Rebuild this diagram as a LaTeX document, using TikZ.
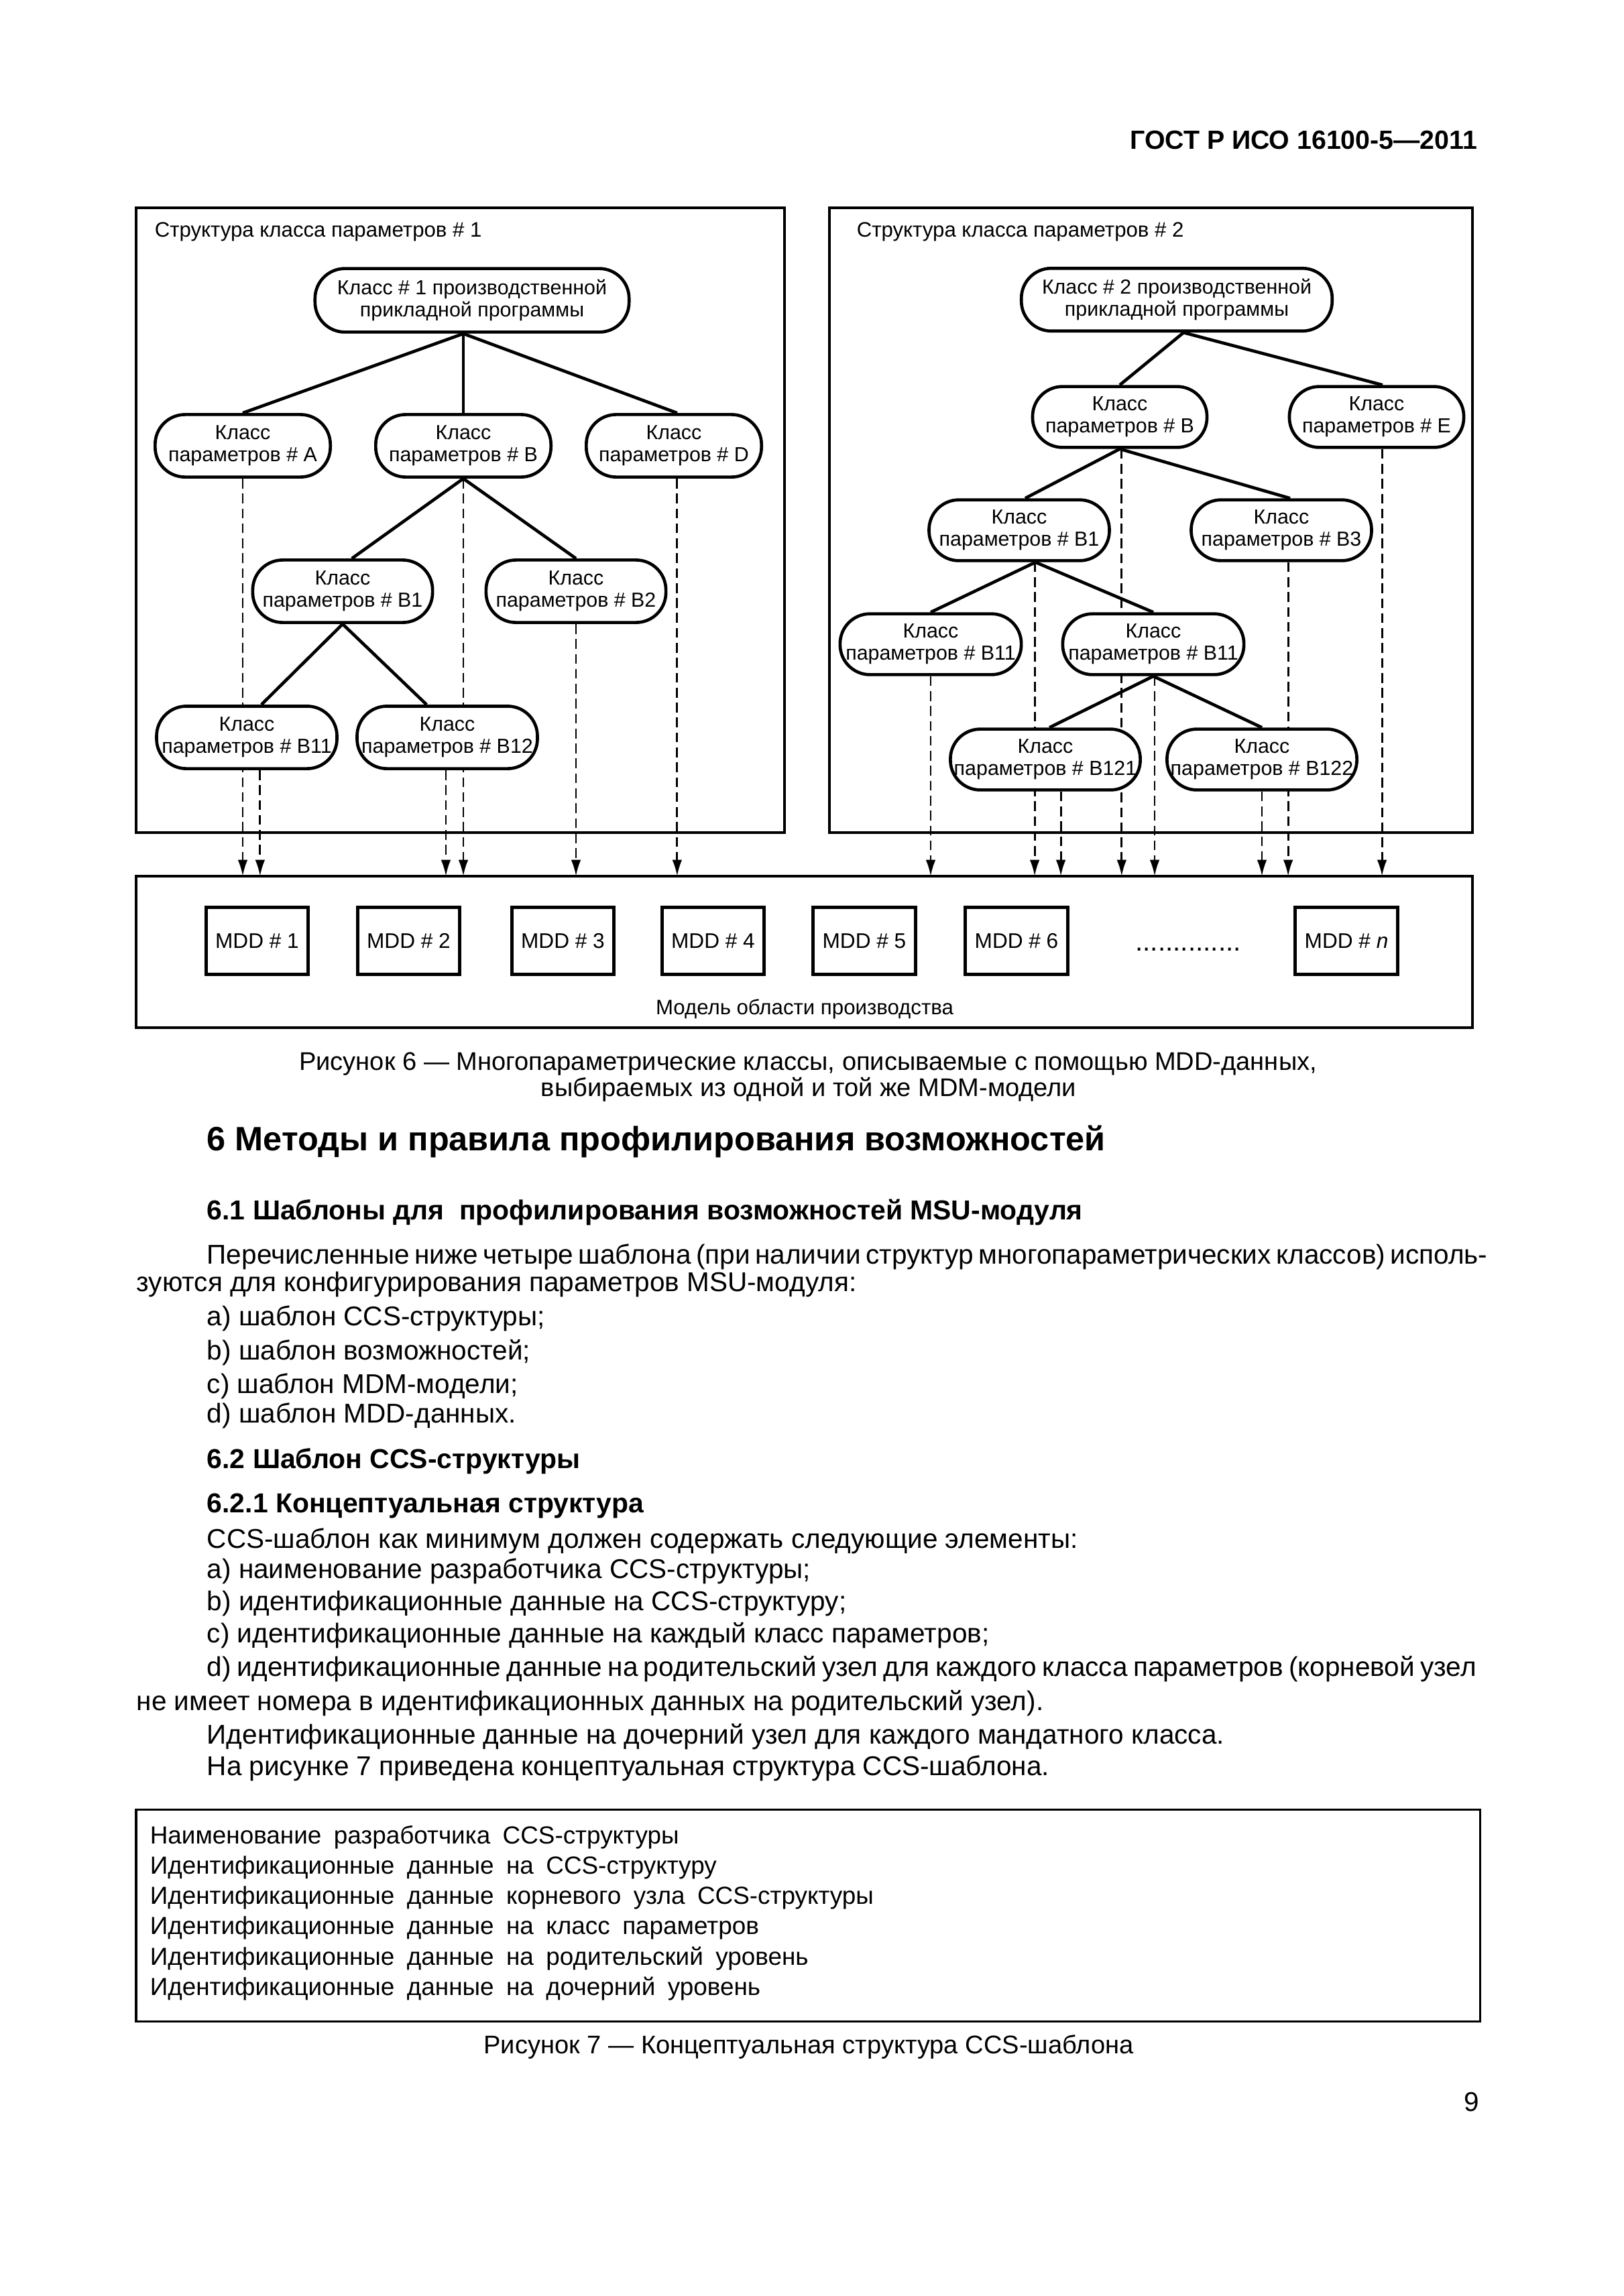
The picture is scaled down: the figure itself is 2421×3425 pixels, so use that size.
\documentclass[tikz,border=0pt]{standalone}
\usepackage{fontspec}
\setmainfont{Liberation Sans}
\newfontfamily\boxfont[WordSpace=1.8]{Liberation Sans}
\usetikzlibrary{arrows.meta,backgrounds}
\newcommand\dgmsize{\fontsize{7.7}{8.1}\selectfont}
\newcommand\clssize{\fontsize{7.5}{8.1}\selectfont}
\newcommand\txtsize{\fontsize{10}{12}\selectfont}
\newcommand\capsize{\fontsize{9.4}{11}\selectfont}

\begin{document}
\begin{tikzpicture}[x=0.086741mm,y=-0.086741mm,
  clsL/.style={draw,line width=1.15pt,rounded corners=11pt,fill=white,align=center,inner sep=0pt,minimum width=#1,minimum height=23pt,font=\clssize},
  clsR/.style={clsL=#1,minimum height=22.4pt},
  mdd/.style={draw,line width=1.2pt,minimum width=37.6pt,minimum height=24.8pt,inner sep=0pt,font=\fontsize{7.8}{9}\selectfont},
  link/.style={line width=1.15pt},
  feed/.style={line width=0.7pt,dash pattern=on 3.6pt off 1.9pt,-{Latex[length=6pt,width=3.6pt]}},
  frame/.style={line width=1.2pt},
  txt/.style={anchor=base west,inner sep=0pt,font=\txtsize},
  subhead/.style={txt,font=\bfseries\fontsize{10.1}{12}\selectfont}]
\useasboundingbox (0,0) rectangle (2421,3425);

\node[anchor=base east,inner sep=0pt,font=\bfseries\fontsize{9.7}{11}\selectfont] (hdr) at (2204,222) {ГОСТ Р ИСО 16100-5—2011};

\draw[frame] (203,310) rectangle (1170,1242);
\draw[frame] (1237,310) rectangle (2196,1242);
\draw[frame] (203,1307) rectangle (2196,1533);
\coordinate (mdlTop) at (0,1307);
\node[anchor=base west,inner sep=0pt,font=\dgmsize] (ttlA) at (230,353) {Структура класса параметров \# 1};
\node[anchor=base west,inner sep=0pt,font=\dgmsize] (ttlB) at (1277,353) {Структура класса параметров \# 2};

\node[clsL=115.6pt,minimum height=23.4pt] (rootA) at (704,448) {Класс \# 1 производственной\\прикладной программы};
\node[clsL=64.5pt] (lA) at (362,665) {Класс\\параметров \# A};
\node[clsL=64.5pt] (lB) at (691,665) {Класс\\параметров \# B};
\node[clsL=64.5pt] (lD) at (1005,665) {Класс\\параметров \# D};
\node[clsL=66.2pt] (lB1) at (511,882) {Класс\\параметров \# B1};
\node[clsL=66.2pt] (lB2) at (859,882) {Класс\\параметров \# B2};
\node[clsL=66.4pt] (lB11) at (368,1100) {Класс\\параметров \# B11};
\node[clsL=66.4pt] (lB12) at (667,1100) {Класс\\параметров \# B12};

\node[clsR=114.4pt,minimum height=23.1pt] (rootB) at (1755,447) {Класс \# 2 производственной\\прикладной программы};
\node[clsR=64.2pt] (rB) at (1670,622) {Класс\\параметров \# B};
\node[clsR=64.2pt] (rE) at (2053,622) {Класс\\параметров \# E};
\node[clsR=66.4pt] (rB1) at (1520,791) {Класс\\параметров \# B1};
\node[clsR=66.4pt] (rB3) at (1911,791) {Класс\\параметров \# B3};
\node[clsR=66.7pt] (rB11a) at (1388,961) {Класс\\параметров \# B11};
\node[clsR=66.7pt] (rB11b) at (1720,961) {Класс\\параметров \# B11};
\node[clsR=69.9pt] (rB121) at (1559,1133) {Класс\\параметров \# B121};
\node[clsR=69.9pt] (rB122) at (1882,1133) {Класс\\параметров \# B122};

\coordinate (jA) at (rootA.south -| lB.north);
\draw[link] (jA) -- (lA.north);
\draw[link] (jA) -- (lB.north);
\draw[link] (jA) -- ([xshift=1.2pt]lD.north);
\draw[link] (lB.south) -- ([xshift=3.4pt]lB1.north);
\draw[link] (lB.south) -- (lB2.north);
\draw[link] (lB1.south) -- ([xshift=5.4pt]lB11.north);
\draw[link] (lB1.south) -- ([xshift=-7.6pt]lB12.north);
\draw[link] ([xshift=2.5pt]rootB.south) -- (rB.north);
\draw[link] ([xshift=2.5pt]rootB.south) -- ([xshift=2.2pt]rE.north);
\draw[link] (rB.south) -- ([xshift=2.2pt]rB1.north);
\draw[link] (rB.south) -- ([xshift=3.2pt]rB3.north);
\draw[link] ([xshift=6pt]rB1.south) -- (rB11a.north);
\draw[link] ([xshift=6pt]rB1.south) -- (rB11b.north);
\draw[link] (rB11b.south) -- ([xshift=1.5pt]rB121.north);
\draw[link] (rB11b.south) -- (rB122.north);

\begin{scope}[on background layer]
\foreach \n/\dx in {lA/0,lB11/4.9,lB12/-0.5,lB/0,lB2/0,lD/1.2,rB11a/0,rB1/5.7,rB121/5.7,rB/0.7,rB11b/0.5,rB122/0,rB3/2.5,rE/2}{
  \coordinate (src) at ([xshift=\dx pt]\n.south);
  \draw[feed] (src) -- (src |- mdlTop);
}
\end{scope}

\foreach \i/\x in {1/383.5,2/609.5,3/839.5,4/1063.5,5/1289,6/1516}
  \node[mdd] (mdd\i) at (\x,1403.5) {MDD \# \i};
\node[mdd] (mddn) at (2008,1403.5) {MDD \# \textit{n}};
\node[anchor=base,inner sep=0pt,font=\fontsize{10}{12}\selectfont] (dots) at (1772,1418) {..............};
\node[font=\dgmsize] (mdlname) at (1200,1505) {Модель области производства};

\node[anchor=base,inner sep=0pt,font=\capsize] (cap6a) at (1205,1596) {Рисунок 6 — Многопараметрические классы, описываемые с помощью MDD-данных,};
\node[anchor=base,inner sep=0pt,font=\capsize] (cap6b) at (1206,1635) {выбираемых из одной и той же MDM-модели};

\node[txt,font=\bfseries\fontsize{12.45}{14}\selectfont] (h6) at (308,1716) {6 Методы и правила профилирования возможностей};
\node[subhead] (h61) at (308,1819) {6.1 Шаблоны для \ профилирования возможностей MSU-модуля};
\node[txt] (p1) at (308,1885) {\makebox[467.2pt][s]{Перечисленные ниже четыре шаблона (при наличии структур многопараметрических классов) исполь-}};
\node[txt] (p2) at (203,1926) {зуются для конфигурирования параметров MSU-модуля:};
\node[txt] (p3) at (308,1977) {a) шаблон CCS-структуры;};
\node[txt] (p4) at (308,2028) {b) шаблон возможностей;};
\node[txt] (p5) at (308,2078) {c) шаблон MDM-модели;};
\node[txt] (p6) at (308,2122) {d) шаблон MDD-данных.};
\node[subhead] (h62) at (308,2190) {6.2 Шаблон CCS-структуры};
\node[subhead] (h621) at (308,2256) {6.2.1 Концептуальная структура};
\node[txt] (q1) at (308,2309) {CCS-шаблон как минимум должен содержать следующие элементы:};
\node[txt] (q2) at (308,2354) {a) наименование разработчика CCS-структуры;};
\node[txt] (q3) at (308,2402) {b) идентификационные данные на CCS-структуру;};
\node[txt] (q4) at (308,2450) {c) идентификационные данные на каждый класс параметров;};
\node[txt] (q5) at (308,2500) {\makebox[467.2pt][s]{d) идентификационные данные на родительский узел для каждого класса параметров (корневой узел}};
\node[txt] (q6) at (203,2551) {не имеет номера в идентификационных данных на родительский узел).};
\node[txt] (q7) at (308,2601) {Идентификационные данные на дочерний узел для каждого мандатного класса.};
\node[txt] (q8) at (308,2648) {На рисунке 7 приведена концептуальная структура CCS-шаблона.};

\draw[line width=0.75pt] (203,2699) rectangle (2207,3015);
\foreach \t [count=\k] in {Наименование разработчика CCS-структуры,Идентификационные данные на CCS-структуру,Идентификационные данные корневого узла CCS-структуры,Идентификационные данные на класс параметров,Идентификационные данные на родительский уровень,Идентификационные данные на дочерний уровень}
  \node[anchor=base west,inner sep=0pt,font=\boxfont\fontsize{9.1}{11}\selectfont] (ccs\k) at (223,{2750+45.3*(\k-1)}) {\t};

\node[anchor=base,inner sep=0pt,font=\capsize] (cap7) at (1206,3063) {Рисунок 7 — Концептуальная структура CCS-шаблона};
\node[anchor=base east,inner sep=0pt,font=\txtsize] (pgno) at (2207,3149) {9};
\end{tikzpicture}
\end{document}
